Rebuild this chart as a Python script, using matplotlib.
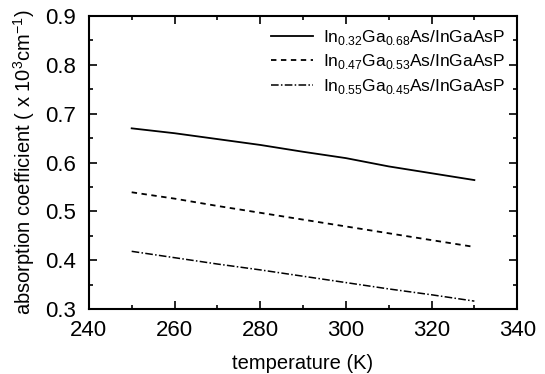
import matplotlib
matplotlib.use("Agg")
from matplotlib import pyplot as plt
from matplotlib.ticker import MultipleLocator

# temperature (K)
temp = [250, 260, 270, 280, 290, 300, 310, 320, 330]

# absorption coefficient (x 10^3 cm^-1)
in032 = [0.670, 0.660, 0.648, 0.636, 0.622, 0.609, 0.592, 0.578, 0.564]
in047 = [0.539, 0.526, 0.511, 0.497, 0.483, 0.469, 0.455, 0.441, 0.427]
in055 = [0.418, 0.405, 0.392, 0.380, 0.367, 0.354, 0.341, 0.329, 0.316]

labels = [r"In$_{0.32}$Ga$_{0.68}$As/InGaAsP",
          r"In$_{0.47}$Ga$_{0.53}$As/InGaAsP",
          r"In$_{0.55}$Ga$_{0.45}$As/InGaAsP"]

plt.rcParams["font.family"] = ["Liberation Sans", "DejaVu Sans"]
plt.rcParams["mathtext.fontset"] = "custom"
plt.rcParams["mathtext.rm"] = "Liberation Sans"

fig = plt.figure(figsize=(5.45, 3.74), dpi=100)
ax = fig.add_axes([0.163, 0.174, 0.786, 0.783])

ax.plot(temp, in032, color="black", lw=1.3, ls="-", label=labels[0])
ax.plot(temp, in047, color="black", lw=1.3, ls=(0, (3, 2.5)), label=labels[1])
ax.plot(temp, in055, color="black", lw=1.1, ls=(0, (5, 1.5, 1, 1.5)), label=labels[2])

ax.set_xlim(240, 340)
ax.set_ylim(0.3, 0.9)
ax.xaxis.set_major_locator(MultipleLocator(20))
ax.xaxis.set_minor_locator(MultipleLocator(10))
ax.yaxis.set_major_locator(MultipleLocator(0.1))
ax.yaxis.set_minor_locator(MultipleLocator(0.05))
ax.tick_params(which="both", direction="in", top=True, right=True, width=1.2)
ax.tick_params(which="major", length=6, labelsize=16)
ax.tick_params(which="minor", length=3)
ax.tick_params(axis="x", pad=8)
ax.tick_params(axis="y", pad=9)
for s in ax.spines.values():
    s.set_linewidth(1.5)

ax.set_xlabel("temperature (K)", fontsize=14.5, labelpad=9)
ax.set_ylabel(r"absorption coefficient ( x 10$^3$cm$^{-1}$)", fontsize=14.5, labelpad=6)

ax.legend(loc="upper right", frameon=False, fontsize=12.5, handlelength=2.4,
          handletextpad=0.6, labelspacing=0.3, borderaxespad=0.3)

fig.savefig("out.png", dpi=100)
